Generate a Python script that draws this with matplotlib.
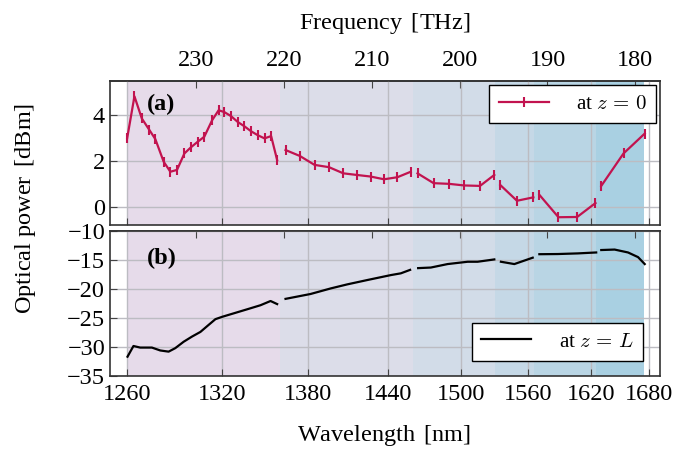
import numpy as np
import matplotlib.pyplot as plt

plt.rcParams['font.family'] = 'Liberation Serif'
plt.rcParams['mathtext.fontset'] = 'cm'

C = 299792.458  # nm * THz

# (a) optical power at z = 0 (nan separates the band segments)
wl_a = [1260.3, 1264.7, 1269.2, 1273.9, 1277.5, 1282.7, 1286.9, 1291.1, 1295.8, 1300.0,
        1304.3, 1308.6, 1313.7, 1318.0, 1321.8, 1326.3, 1330.7, 1335.2, 1339.8, 1344.3,
        1349.0, 1353.6, 1357.8, np.nan,
        1363.7, 1373.9, 1384.5, 1395.1, 1405.8, 1415.9, 1426.6, 1437.0, 1447.6, 1458.3, np.nan,
        1463.8, 1477.0, 1490.0, 1502.8, 1516.5, 1529.1, np.nan,
        1534.4, 1549.5, 1564.6, np.nan,
        1570.2, 1588.3, 1606.4, 1624.6, np.nan,
        1630.4, 1653.2, 1675.5]
p_a = [3.0, 4.83, 3.86, 3.35, 2.96, 1.97, 1.53, 1.61, 2.33, 2.60,
       2.84, 3.06, 3.78, 4.22, 4.14, 3.96, 3.71, 3.52, 3.30, 3.13,
       2.99, 3.09, 2.04, np.nan,
       2.48, 2.22, 1.83, 1.73, 1.46, 1.39, 1.32, 1.20, 1.29, 1.53, np.nan,
       1.46, 1.03, 1.00, 0.93, 0.91, 1.39, np.nan,
       0.95, 0.26, 0.41, np.nan,
       0.52, -0.46, -0.45, 0.16, np.nan,
       0.91, 2.33, 3.20]

# (b) optical power at z = L
wl_b = [1260.5, 1264.1, 1268.2, 1275.4, 1280.6, 1285.8, 1290.0, 1295.3, 1300.7, 1306.1,
        1311.4, 1315.9, 1320.3, 1328.0, 1337.1, 1346.2, 1353.2, 1357.8, np.nan,
        1363.7, 1381.6, 1396.4, 1408.8, 1424.1, 1442.4, 1450.3, 1457.8, np.nan,
        1464.3, 1474.7, 1488.7, 1505.8, 1514.4, 1529.1, np.nan,
        1535.0, 1547.1, 1564.0, np.nan,
        1570.2, 1587.7, 1607.1, 1625.3, np.nan,
        1630.4, 1644.0, 1657.9, 1668.4, 1675.5]
p_b = [-31.67, -29.83, -30.1, -30.1, -30.6, -30.8, -30.2, -29.1, -28.2, -27.4,
       -26.2, -25.2, -24.8, -24.2, -23.5, -22.8, -22.07, -22.6, np.nan,
       -21.7, -20.86, -19.9, -19.2, -18.45, -17.6, -17.3, -16.7, np.nan,
       -16.4, -16.3, -15.7, -15.3, -15.3, -14.9, np.nan,
       -15.3, -15.7, -14.6, np.nan,
       -14.0, -13.97, -13.86, -13.7, np.nan,
       -13.28, -13.2, -13.7, -14.5, -15.7]

# telecom bands O, E, S, C, L, U
band_edges = [1260, 1360, 1460, 1530, 1565, 1625, 1675]
band_colors = ['#e6dbea', '#dcdde9', '#d2dce8', '#c5d8e6', '#b9d5e4', '#a9d0e2']

wl_ticks = [1260, 1320, 1380, 1440, 1500, 1560, 1620, 1680]
freq_ticks = [230, 220, 210, 200, 190, 180]

red = '#c2134f'
fs = 17.5

fig = plt.figure(figsize=(6.78, 4.49), dpi=100)
ax_a = fig.add_axes([0.1622, 0.4989, 0.8113, 0.3207])
ax_b = fig.add_axes([0.1622, 0.1626, 0.8113, 0.3229])

for ax, top_labels, bottom_labels in [(ax_a, True, False), (ax_b, False, True)]:
    for i in range(len(band_colors)):
        ax.axvspan(C / band_edges[i], C / band_edges[i + 1], color=band_colors[i], lw=0, zorder=0)
    ax.set_xlim(C / 1250, C / 1692)
    ax.set_xticks(C / np.array(wl_ticks))
    ax.set_xticklabels([str(w) for w in wl_ticks] if bottom_labels else [])
    ax.tick_params(direction='in', length=5, labelsize=fs, color='#444444', top=False, right=False)
    ax.tick_params(axis='x', pad=6)
    ax.grid(True, color='#bcbcc2', lw=1.0)
    for s in ax.spines.values():
        s.set_color('#333333')
        s.set_linewidth(1.2)
    sec = ax.secondary_xaxis('top')
    sec.set_xticks(freq_ticks)
    sec.set_xticklabels([str(f) for f in freq_ticks] if top_labels else [])
    sec.tick_params(direction='in', length=5, labelsize=fs, color='#444444', pad=7)
    sec.spines['top'].set_color('#333333')
    sec.spines['top'].set_linewidth(1.2)

# (a)
ax_a.plot(C / np.array(wl_a), p_a, color=red, lw=1.6, marker='|', ms=7, mew=1.5,
          label=r'at $z\,=\,0$')
ax_a.set_ylim(-0.8, 5.5)
ax_a.set_yticks([0, 2, 4])
ax_a.text(0.067, 0.84, '(a)', transform=ax_a.transAxes, fontsize=fs, fontweight='bold',
          va='center', ha='left')
ax_a.legend(loc='upper right', bbox_to_anchor=(0.993, 0.972), fontsize=15, fancybox=False,
            edgecolor='black', framealpha=1, handlelength=2.4, borderaxespad=0,
            handletextpad=1.3, borderpad=0.45)

# (b)
ax_b.plot(C / np.array(wl_b), p_b, color='black', lw=1.6, label=r'at $z\,=\,L$')
ax_b.set_ylim(-35, -10)
ax_b.set_yticks([-35, -30, -25, -20, -15, -10])
ax_b.text(0.067, 0.814, '(b)', transform=ax_b.transAxes, fontsize=fs, fontweight='bold',
          va='center', ha='left')
ax_b.legend(loc='lower right', bbox_to_anchor=(0.969, 0.103), fontsize=15, fancybox=False,
            edgecolor='black', framealpha=1, handlelength=2.4, borderaxespad=0,
            handletextpad=1.3, borderpad=0.45)

fig.text(0.567, 0.948, r'Frequency $\,$[THz]', ha='center', va='center', fontsize=fs)
fig.text(0.567, 0.03, r'Wavelength $\,$[nm]', ha='center', va='center', fontsize=fs)
fig.text(0.037, 0.536, r'Optical power $\,$[dBm]', ha='center', va='center', rotation=90,
         fontsize=fs)

fig.savefig('out.png', dpi=100)
